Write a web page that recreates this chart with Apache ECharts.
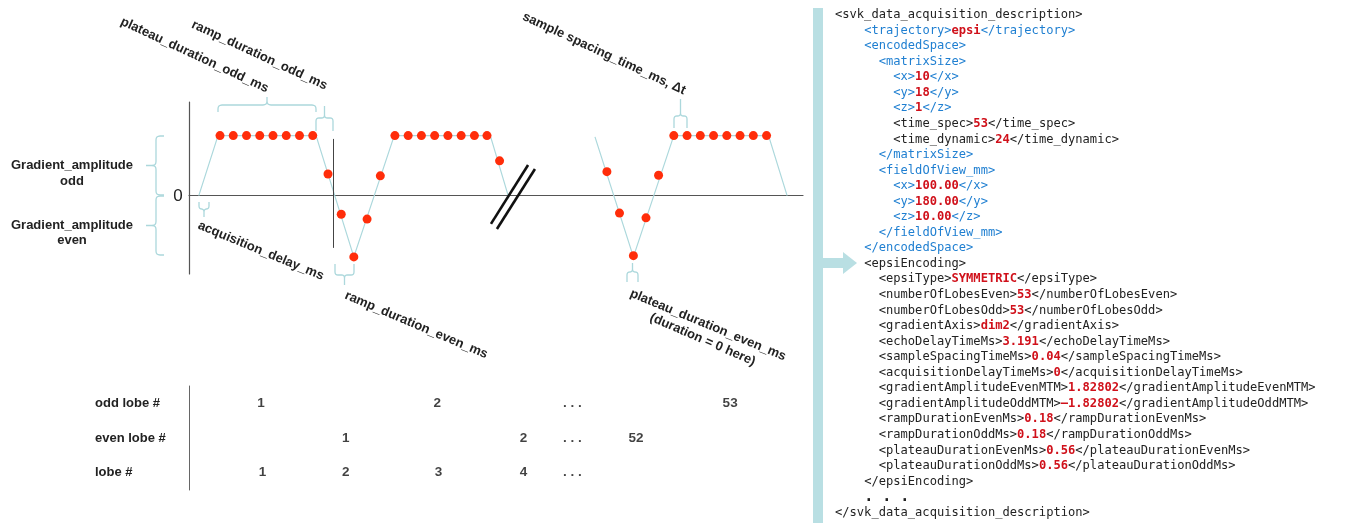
<!DOCTYPE html>
<html>
<head>
<meta charset="utf-8">
<script src="https://cdn.jsdelivr.net/npm/echarts@6/dist/echarts.min.js"></script>
<style>
  html, body { margin: 0; padding: 0; background: #fff; }
  #chart { width: 1366px; height: 523px; }
</style>
</head>
<body>
<div id="chart"></div>
<script>
// time in sample units (dt), amplitude in units of the gradient amplitude
const waveLeftT = [-1.6, -0.15, 7.25, 10.1, 13.15, 20.4, 21.75];
const waveLeftG = [0, 1, 1, -1.02, 1, 1, 0];
const waveRightT = [28.3, 31.2, 34.25, 41.4, 42.8];
const waveRightG = [0.98, -1.02, 1, 1, 0];

const sampleT = [0, 1, 2, 3, 4, 5, 6, 7, 8.15, 9.15, 10.1, 11.1, 12.1,
  13.2, 14.2, 15.2, 16.2, 17.2, 18.2, 19.2, 20.15, 21.1,
  29.2, 30.15, 31.2, 32.15, 33.1, 34.25, 35.25, 36.25, 37.25, 38.25, 39.25, 40.25, 41.25];
const sampleG = [1, 1, 1, 1, 1, 1, 1, 1, 0.36, -0.31, -1.02, -0.39, 0.33,
  1, 1, 1, 1, 1, 1, 1, 1, 0.58,
  0.4, -0.29, -1.0, -0.37, 0.34, 1, 1, 1, 1, 1, 1, 1, 1];

const echoMarkT = 8.53;
const echoMarkG = [0.945, -0.87];
const breakMarks = [[[20.45, -0.47], [23.25, 0.51]], [[20.9, -0.555], [23.77, 0.445]]];

const lobeRows = ['lobe #', 'even lobe #', 'odd lobe #'];
const oddLobeT = [3.1, 16.4, 26.6, 38.5];
const oddLobeLabels = ['1', '2', '. . .', '53'];
const evenLobeT = [9.5, 22.9, 26.6, 31.4];
const evenLobeLabels = ['1', '2', '. . .', '52'];
const lobeT = [3.2, 9.5, 16.5, 22.9, 26.6];
const lobeLabels = ['1', '2', '3', '4', '. . .'];

// [indent chars, colour key, open tag, value, close tag]
const xmlLines = [
  [0, 'k', '<svk_data_acquisition_description>', '', ''],
  [4, 'b', '<trajectory>', 'epsi', '</trajectory>'],
  [4, 'b', '<encodedSpace>', '', ''],
  [6, 'b', '<matrixSize>', '', ''],
  [8, 'b', '<x>', '10', '</x>'],
  [8, 'b', '<y>', '18', '</y>'],
  [8, 'b', '<z>', '1', '</z>'],
  [8, 'k', '<time_spec>', '53', '</time_spec>'],
  [8, 'k', '<time_dynamic>', '24', '</time_dynamic>'],
  [6, 'b', '</matrixSize>', '', ''],
  [6, 'b', '<fieldOfView_mm>', '', ''],
  [8, 'b', '<x>', '100.00', '</x>'],
  [8, 'b', '<y>', '180.00', '</y>'],
  [8, 'b', '<z>', '10.00', '</z>'],
  [6, 'b', '</fieldOfView_mm>', '', ''],
  [4, 'b', '</encodedSpace>', '', ''],
  [4, 'k', '<epsiEncoding>', '', ''],
  [6, 'k', '<epsiType>', 'SYMMETRIC', '</epsiType>'],
  [6, 'k', '<numberOfLobesEven>', '53', '</numberOfLobesEven>'],
  [6, 'k', '<numberOfLobesOdd>', '53', '</numberOfLobesOdd>'],
  [6, 'k', '<gradientAxis>', 'dim2', '</gradientAxis>'],
  [6, 'k', '<echoDelayTimeMs>', '3.191', '</echoDelayTimeMs>'],
  [6, 'k', '<sampleSpacingTimeMs>', '0.04', '</sampleSpacingTimeMs>'],
  [6, 'k', '<acquisitionDelayTimeMs>', '0', '</acquisitionDelayTimeMs>'],
  [6, 'k', '<gradientAmplitudeEvenMTM>', '1.82802', '</gradientAmplitudeEvenMTM>'],
  [6, 'k', '<gradientAmplitudeOddMTM>', '–1.82802', '</gradientAmplitudeOddMTM>'],
  [6, 'k', '<rampDurationEvenMs>', '0.18', '</rampDurationEvenMs>'],
  [6, 'k', '<rampDurationOddMs>', '0.18', '</rampDurationOddMs>'],
  [6, 'k', '<plateauDurationEvenMs>', '0.56', '</plateauDurationEvenMs>'],
  [6, 'k', '<plateauDurationOddMs>', '0.56', '</plateauDurationOddMs>'],
  [4, 'k', '</epsiEncoding>', '', ''],
  [4, 'd', '', '', ''],
  [0, 'k', '</svk_data_acquisition_description>', '', '']
];

const LBL = '"Liberation Sans", Arial, Helvetica, sans-serif';
const MONO = '"DejaVu Sans Mono", Menlo, monospace';
const teal = '#acd8dc';

const zip = (a, b) => a.map((v, i) => [v, b[i]]);

function quad(p0, c, p1, n) {
  const pts = [];
  for (let i = 1; i <= n; i++) {
    const t = i / n, s = 1 - t;
    pts.push([s * s * p0[0] + 2 * s * t * c[0] + t * t * p1[0], s * s * p0[1] + 2 * s * t * c[1] + t * t * p1[1]]);
  }
  return pts;
}

// curly brace: a1..a2 along, end/mid/tip across
function brace(vertical, a1, a2, end, mid, tip, r) {
  const s = Math.sign(end - mid);
  const ac = (a1 + a2) / 2;
  let p = [[a1, end], [a1, mid + s * r]];
  p = p.concat(quad([a1, mid + s * r], [a1, mid], [a1 + r, mid], 4));
  p.push([ac - r, mid]);
  p = p.concat(quad([ac - r, mid], [ac, mid], [ac, mid - s * r], 4));
  p.push([ac, tip], [ac, mid - s * r]);
  p = p.concat(quad([ac, mid - s * r], [ac, mid], [ac + r, mid], 4));
  p.push([a2 - r, mid]);
  p = p.concat(quad([a2 - r, mid], [a2, mid], [a2, mid + s * r], 4));
  p.push([a2, end]);
  if (vertical) p = p.map(q => [q[1], q[0]]);
  return {
    type: 'polyline', silent: true,
    shape: { points: p },
    style: { stroke: teal, lineWidth: 1.3, fill: null }
  };
}

function rotLabel(text, x, y, deg) {
  return {
    type: 'text', x: x, y: y, rotation: -deg * Math.PI / 180, silent: true,
    style: { text: text, fill: '#222', font: 'bold 13px ' + LBL, align: 'left', verticalAlign: 'top' }
  };
}

const graphics = [
  brace(false, 218, 316, 112, 105, 97, 4),
  brace(false, 316, 333, 131, 118, 106, 3),
  brace(false, 199, 209, 202, 209, 217, 3),
  brace(false, 335, 354, 264, 275, 285, 3),
  brace(false, 674, 687, 128, 116, 99, 3),
  brace(false, 627, 638, 282, 272, 263, 3),
  brace(true, 136, 195, 164, 156, 146, 4),
  brace(true, 196, 255, 164, 156, 146, 4),
  rotLabel('plateau_duration_odd_ms', 124, 15, 25),
  rotLabel('ramp_duration_odd_ms', 195, 18, 25),
  rotLabel('acquisition_delay_ms', 201, 219, 22.5),
  rotLabel('ramp_duration_even_ms', 348, 289, 23),
  rotLabel('sample spacing_time_ms, Δt', 526, 10, 25),
  rotLabel('plateau_duration_even_ms', 633, 287, 22.5),
  rotLabel('(duration = 0 here)', 653, 311, 23.5),
  {
    type: 'text', x: 72, y: 173, silent: true,
    style: { text: 'Gradient_amplitude\nodd', fill: '#222', font: 'bold 13px ' + LBL, align: 'center', verticalAlign: 'middle', lineHeight: 16 }
  },
  {
    type: 'text', x: 72, y: 233, silent: true,
    style: { text: 'Gradient_amplitude\neven', fill: '#222', font: 'bold 13px ' + LBL, align: 'center', verticalAlign: 'middle', lineHeight: 15 }
  },
  {
    type: 'text', x: 178, y: 196, silent: true,
    style: { text: '0', fill: '#222', font: '17px ' + LBL, align: 'center', verticalAlign: 'middle' }
  },
  // xml panel bar and arrow
  { type: 'rect', silent: true, shape: { x: 813, y: 8, width: 10, height: 515 }, style: { fill: '#b9dfe3' } },
  { type: 'rect', silent: true, shape: { x: 823, y: 258, width: 21, height: 10 }, style: { fill: '#b9dfe3' } },
  { type: 'polygon', silent: true, shape: { points: [[843, 252], [857, 263], [843, 274]] }, style: { fill: '#b9dfe3' } }
];

const charW = 0.602 * 12.1;
xmlLines.forEach((ln, i) => {
  const [ind, key, open, val, close] = ln;
  let txt;
  if (key === 'd') txt = '{d|. . .}';
  else txt = '{' + key + '|' + open + '}' + (val ? '{v|' + val + '}' : '') + (close ? '{' + key + '|' + close + '}' : '');
  graphics.push({
    type: 'text', x: 835 + ind * charW, y: 15 + i * 15.55, silent: true,
    style: {
      text: txt, align: 'left', verticalAlign: 'middle',
      font: '12.1px ' + MONO,
      rich: {
        k: { fill: '#222', fontSize: 12.1, fontFamily: MONO },
        b: { fill: '#1f7fd1', fontSize: 12.1, fontFamily: MONO },
        v: { fill: '#d0101a', fontSize: 12.1, fontFamily: MONO, fontWeight: 'bold' },
        d: { fill: '#222', fontSize: 15, fontFamily: MONO, fontWeight: 'bold' }
      }
    }
  });
});

const tableData = []
  .concat(oddLobeT.map((t, i) => [t, 'odd lobe #', oddLobeLabels[i]]))
  .concat(evenLobeT.map((t, i) => [t, 'even lobe #', evenLobeLabels[i]]))
  .concat(lobeT.map((t, i) => [t, 'lobe #', lobeLabels[i]]));

const chart = echarts.init(document.getElementById('chart'));
chart.setOption({
  animation: false,
  backgroundColor: '#fff',
  grid: [
    { left: 189, top: 102, width: 614, height: 172 },
    { left: 189, top: 386, width: 614, height: 104 }
  ],
  xAxis: [
    {
      type: 'value', gridIndex: 0, min: -2.34, max: 44.0,
      axisLine: { show: true, onZero: true, lineStyle: { color: '#555', width: 1.2 } },
      axisTick: { show: false }, axisLabel: { show: false }, splitLine: { show: false }
    },
    { type: 'value', gridIndex: 1, min: -2.34, max: 44.0, show: false }
  ],
  yAxis: [
    {
      type: 'value', gridIndex: 0, min: -1.305, max: 1.56,
      axisLine: { show: true, onZero: false, lineStyle: { color: '#555', width: 1.2 } },
      axisTick: { show: false }, axisLabel: { show: false }, splitLine: { show: false }
    },
    {
      type: 'category', gridIndex: 1, data: lobeRows,
      axisLine: { show: true, onZero: false, lineStyle: { color: '#666', width: 1 } },
      axisTick: { show: false }, splitLine: { show: false },
      axisLabel: { align: 'left', margin: 94, color: '#222', fontWeight: 'bold', fontSize: 13, fontFamily: LBL }
    }
  ],
  series: [
    {
      type: 'line', xAxisIndex: 0, yAxisIndex: 0, data: zip(waveLeftT, waveLeftG), z: 2,
      showSymbol: false, silent: true, lineStyle: { color: teal, width: 1.2 }
    },
    {
      type: 'line', xAxisIndex: 0, yAxisIndex: 0, data: zip(waveRightT, waveRightG), z: 2,
      showSymbol: false, silent: true, lineStyle: { color: teal, width: 1.2 }
    },
    {
      type: 'scatter', xAxisIndex: 0, yAxisIndex: 0, data: zip(sampleT, sampleG), z: 10,
      symbol: 'circle', symbolSize: 9, silent: true,
      itemStyle: { color: '#ff2d0a', opacity: 1, borderWidth: 0 },
      markLine: {
        silent: true, symbol: 'none', animation: false, z: 3,
        label: { show: false },
        data: [
          [{ coord: [echoMarkT, echoMarkG[0]], lineStyle: { color: '#444', width: 1, type: 'solid' } },
           { coord: [echoMarkT, echoMarkG[1]] }]
        ].concat(breakMarks.map(m => [
          { coord: m[0], lineStyle: { color: '#111', width: 2.6, type: 'solid' } },
          { coord: m[1] }
        ]))
      }
    },
    {
      type: 'scatter', xAxisIndex: 1, yAxisIndex: 1, data: tableData,
      symbolSize: 0, silent: true, itemStyle: { color: 'rgba(0,0,0,0)' },
      label: {
        show: true, position: 'inside', color: '#111', fontWeight: 700, fontSize: 13.5, fontFamily: LBL,
        textBorderWidth: 0,
        formatter: p => p.value[2]
      }
    }
  ],
  graphic: graphics
});
</script>
</body>
</html>
